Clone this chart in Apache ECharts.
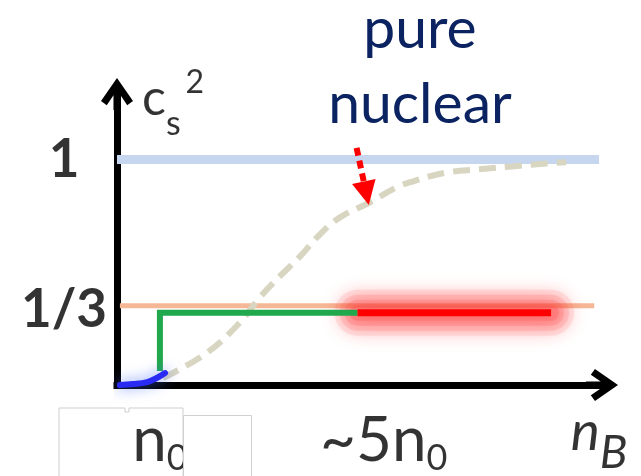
<!DOCTYPE html>
<html><head><meta charset="utf-8">
<script src="https://cdn.jsdelivr.net/npm/echarts@6/dist/echarts.min.js"></script>
<style>html,body{margin:0;padding:0;background:#fff}#c{width:641px;height:476px}</style>
</head><body><div id="c"></div>
<script>
// ---- data (x in arbitrary density units 0..100, y = c_s^2) ----
const causalX = [0, 99.4];          // c_s^2 = 1 line
const causalY = [1, 1];
const conformalX = [0.6, 98.4];     // c_s^2 = 1/3 line
const conformalY = [0.351, 0.351];
const lowX = [0.6, 3.3, 6.2, 8.2, 9.9];            // blue low-density branch
const lowY = [0, 0.004, 0.013, 0.031, 0.053];
const greenX = [8.85, 8.85, 49.6];                 // green step
const greenY = [0.062, 0.32, 0.32];
const redX = [49.6, 89.5];                         // red (glowing) plateau
const redY = [0.32, 0.32];
const nuclearX = [9.5, 18.5, 25.3, 29.4, 33.5, 37.7, 41.8, 45.9, 52.1, 57.6, 60.9, 67.9, 74.7, 81.5, 88.5, 92.6];
const nuclearY = [0.031, 0.142, 0.276, 0.387, 0.48, 0.569, 0.667, 0.742, 0.809, 0.876, 0.902, 0.942, 0.956, 0.969, 0.982, 0.987];
const pointerX = [49.4, 51.4];                     // red dotted pointer
const pointerY = [1.051, 0.85];
const xTickValues = [8.85, 55, 99.4];
const xTickMain = ['n', '~5n', 'n'];
const xTickSub = ['0', '0', 'B'];
const yTickValues = [1, 1 / 3];
const yTickLabels = ['1', '1/3'];
const yTitle = ['c', 's', '2'];
const annotation = ['pure', 'nuclear'];

const zip = (xs, ys) => xs.map((x, i) => [x, ys[i]]);
const chart = echarts.init(document.getElementById('c'), null, {renderer: 'canvas'});
const arrowPath = 'path://M50 0 L100 72 L82 85 L61 54 L61 100 L39 100 L39 54 L18 85 L0 72 Z';
const FONT = 'Lato';

function lineSeries(data, style, extra) {
  return Object.assign({
    type: 'line', data: data, symbol: 'none', showSymbol: false, silent: true,
    animation: false, clip: false, lineStyle: style
  }, extra || {});
}

const baseLabel = {show: true, position: [0, 0], textBorderWidth: 0, color: '#000'};
const labelData = [];
// y tick labels
yTickValues.forEach((v, i) => {
  labelData.push({
    value: [0, v],
    label: Object.assign({}, baseLabel, {
      offset: [-53, 0], formatter: yTickLabels[i],
      fontFamily: FONT, fontSize: 53, fontWeight: 'bold', align: 'center', verticalAlign: 'middle'
    })
  });
});
// x tick labels (with subscripts)
xTickValues.forEach((v, i) => {
  const italic = i === 2;
  const st = italic ? 'italic' : 'normal';
  labelData.push({
    value: [v, 0],
    label: Object.assign({}, baseLabel, {
      offset: [0, italic ? 20 : 25],
      formatter: '{m|' + xTickMain[i] + '}{s|' + xTickSub[i] + '}',
      align: 'center', verticalAlign: 'top',
      rich: {
        m: {fontFamily: FONT, fontSize: italic ? 55 : 62, fontStyle: st, color: '#000', verticalAlign: 'top'},
        s: {fontFamily: FONT, fontSize: italic ? 46 : 36, fontStyle: st, color: '#000', verticalAlign: 'top', padding: [italic ? 25 : 30, 0, 0, 0]}
      }
    })
  });
});
// y axis title c_s^2
labelData.push({
  value: [0, 1.29],
  label: Object.assign({}, baseLabel, {
    offset: [25, -27],
    formatter: '{c|' + yTitle[0] + '}{s|' + yTitle[1] + '}{p|' + yTitle[2] + '}',
    align: 'left', verticalAlign: 'top',
    rich: {
      c: {fontFamily: FONT, fontSize: 50, color: '#000', verticalAlign: 'top', padding: [7, 0, 0, 0]},
      s: {fontFamily: FONT, fontSize: 34, color: '#000', verticalAlign: 'top', padding: [40, 0, 0, 0]},
      p: {fontFamily: FONT, fontSize: 32, color: '#000', verticalAlign: 'top', padding: [0, 0, 0, 5]}
    }
  })
});

const glow = (w, a) => lineSeries(zip(redX, redY), {color: 'rgba(255,70,70,' + a + ')', width: w, cap: 'round',
  shadowBlur: 20, shadowColor: 'rgba(255,40,40,0.9)'});

const option = {
  backgroundColor: '#fff',
  animation: false,
  grid: {left: 117, right: 39, top: 94, bottom: 91, containLabel: false},
  xAxis: {
    type: 'value', min: 0, max: 100,
    axisLine: {show: true, onZero: false, symbol: ['none', arrowPath], symbolSize: [32, 32],
      lineStyle: {color: '#000', width: 7, cap: 'square'}},
    axisTick: {show: false}, axisLabel: {show: false}, splitLine: {show: false}
  },
  yAxis: {
    type: 'value', min: 0, max: 1.29,
    axisLine: {show: true, onZero: false, symbol: ['none', arrowPath], symbolSize: [32, 32],
      lineStyle: {color: '#000', width: 7, cap: 'square'}},
    axisTick: {show: false}, axisLabel: {show: false}, splitLine: {show: false}
  },
  graphic: [
    {type: 'text', x: 420, y: 67, z: 50, silent: true,
      style: {text: annotation.join('\n'), fill: '#0c2361', fontFamily: FONT, fontSize: 57,
        align: 'center', verticalAlign: 'middle', lineHeight: 75}},
    {type: 'polyline', z: 0, silent: true,
      shape: {points: [[59, 476], [59, 408], [125, 408], [125, 412], [129, 412], [129, 408], [183, 408], [183, 476]]},
      style: {stroke: '#cfcfcf', lineWidth: 1, fill: null}},
    {type: 'rect', z: 100, silent: true,
      shape: {x: 183.5, y: 415.5, width: 68, height: 70},
      style: {fill: '#fff', stroke: '#d0d0d0', lineWidth: 1}}
  ],
  series: [
    lineSeries(zip(causalX, causalY), {color: '#c6d6ef', width: 9}),
    lineSeries(zip(conformalX, conformalY), {color: '#f5b896', width: 5}),
    lineSeries(zip(nuclearX, nuclearY), {color: '#d8d5c1', width: 6, type: [17, 9]}, {smooth: 0.4}),
    glow(46, 0.1), glow(36, 0.13), glow(26, 0.18), glow(16, 0.25),
    lineSeries(zip(greenX, greenY), {color: '#20a84c', width: 6, join: 'miter'}),
    lineSeries(zip(redX, redY), {color: '#ff0000', width: 7}),
    lineSeries(zip(lowX, lowY), {color: '#2a2af5', width: 6, cap: 'round',
      shadowBlur: 14, shadowColor: 'rgba(70,110,255,0.75)'}, {smooth: 0.4}),
    lineSeries([], {color: '#ff0000', width: 0}, {
      markLine: {
        silent: true, animation: false, symbol: ['none', 'triangle'], symbolSize: [24, 24],
        label: {show: false},
        lineStyle: {color: '#ff0000', width: 6, type: [8, 5]},
        emphasis: {disabled: true},
        data: [[{coord: [pointerX[0], pointerY[0]]}, {coord: [pointerX[1], pointerY[1]]}]]
      }
    }),
    {type: 'scatter', symbolSize: 0, silent: true, animation: false, clip: false, z: 5, data: labelData}
  ]
};
chart.setOption(option);
</script></body></html>
